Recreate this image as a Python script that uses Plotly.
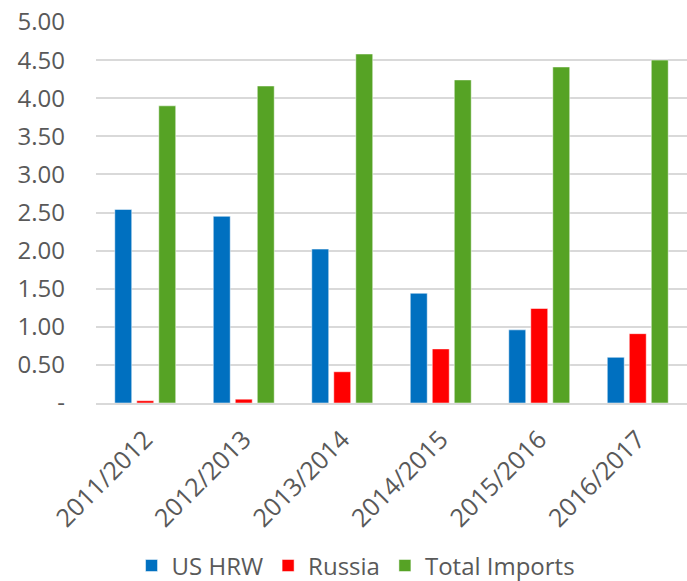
import plotly.graph_objects as go

years = ["2011/2012", "2012/2013", "2013/2014", "2014/2015", "2015/2016", "2016/2017"]
us_hrw = [2.54, 2.45, 2.02, 1.44, 0.96, 0.60]
russia = [0.03, 0.05, 0.41, 0.71, 1.24, 0.91]
total_imports = [3.90, 4.16, 4.58, 4.24, 4.41, 4.50]

y_ticks = [0, 0.5, 1, 1.5, 2, 2.5, 3, 3.5, 4, 4.5, 5]
y_labels = ["-", "0.50", "1.00", "1.50", "2.00", "2.50", "3.00", "3.50", "4.00", "4.50", "5.00"]

font_name = "Open Sans, sans-serif"
grey = "#595959"

fig = go.Figure()
# three series, Excel style colours
fig.add_trace(go.Bar(x=years, y=us_hrw, name="US HRW", marker_color="#0070C0",
                     marker_line=dict(color="white", width=0.5)))
fig.add_trace(go.Bar(x=years, y=russia, name="Russia", marker_color="#FF0000",
                     marker_line=dict(color="white", width=0.5)))
fig.add_trace(go.Bar(x=years, y=total_imports, name="Total Imports", marker_color="#56A325",
                     marker_line=dict(color="white", width=0.5)))

fig.update_layout(
    width=687, height=581,
    margin=dict(l=96, r=0, t=22, b=178),
    paper_bgcolor="white", plot_bgcolor="white",
    barmode="group", bargap=0.33, bargroupgap=0.23,
    font=dict(family=font_name, color=grey, size=24),
    legend=dict(orientation="h", x=0.44, xanchor="center",
                yref="container", y=0.026, yanchor="middle",
                font=dict(size=24, color=grey), itemwidth=30, tracegroupgap=0),
)
fig.update_yaxes(range=[0, 5], tickvals=y_ticks, ticktext=y_labels, automargin=False,
                 showgrid=True, gridcolor="#d9d9d9", gridwidth=1.5,
                 zeroline=False, showline=False, ticks="",
                 tickfont=dict(size=24, color=grey), ticklabelstandoff=30)
fig.update_xaxes(showline=True, linecolor="#d9d9d9", linewidth=1.5, ticks="", automargin=False,
                 tickangle=-45, tickfont=dict(size=25, color=grey),
                 ticklabelshift=0, ticklabelstandoff=10)

# drop the default 8px body margin so the figure sits flush in the window
fig.write_html("out.html", config={"displayModeBar": False},
               post_script="document.body.style.margin='0';")
